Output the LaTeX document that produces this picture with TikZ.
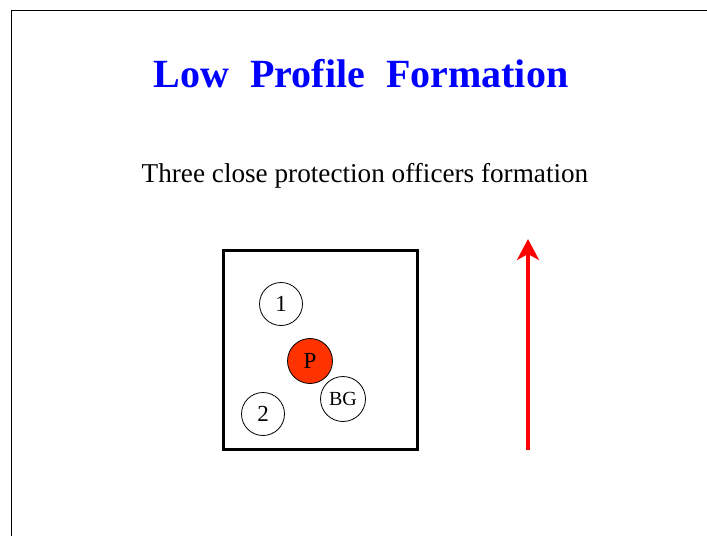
\documentclass[tikz,border=0pt]{standalone}
\usepackage{fontspec}
\setmainfont{Liberation Serif}
\usetikzlibrary{arrows.meta}
\definecolor{titleblue}{RGB}{0,0,255}
\definecolor{principal}{RGB}{255,51,0}
\tikzset{
    officer/.style={circle, draw, fill=white, minimum size=43pt, inner sep=0pt,
        line width=0.8pt, font=\fontsize{23}{23}\selectfont},
    heading/.style={anchor=base, text=titleblue, font=\fontsize{40}{40}\selectfont\bfseries},
    caption/.style={anchor=base, font=\fontsize{27.2}{27.2}\selectfont}
}
\begin{document}
\begin{tikzpicture}[x=1pt,y=-1pt]
                \useasboundingbox (0,0) rectangle (707,536);
                \draw (707,10) -- (11,10) -- (11,536);

                \node[heading] (title) at (361,87)
                    {Low\hspace{11pt} Profile\hspace{11pt} Formation};
                \node[caption] (subtitle) at (365,182)
                    {Three close protection officers formation};

                \node[draw, line width=3pt, minimum width=194pt,
                    minimum height=199pt, inner sep=0pt] (zone) at (320,349.5) {};

                \node[officer] (one) at (281,304) {1};
                \node[officer, fill=principal, minimum size=45pt] (vip) at (310,361) {P};
                \node[officer, minimum size=45pt,
                    font=\fontsize{20}{20}\selectfont] (bg) at (343,399) {BG};
                \node[officer] (two) at (263,414) {2};

                \coordinate (tail) at (528,450);
                \coordinate (head) at (528,239);
                \draw[red, line width=4pt,
                    -{Stealth[length=21pt, width=22pt, inset=6pt]}] (tail) -- (head);
            \end{tikzpicture}
\end{document}
